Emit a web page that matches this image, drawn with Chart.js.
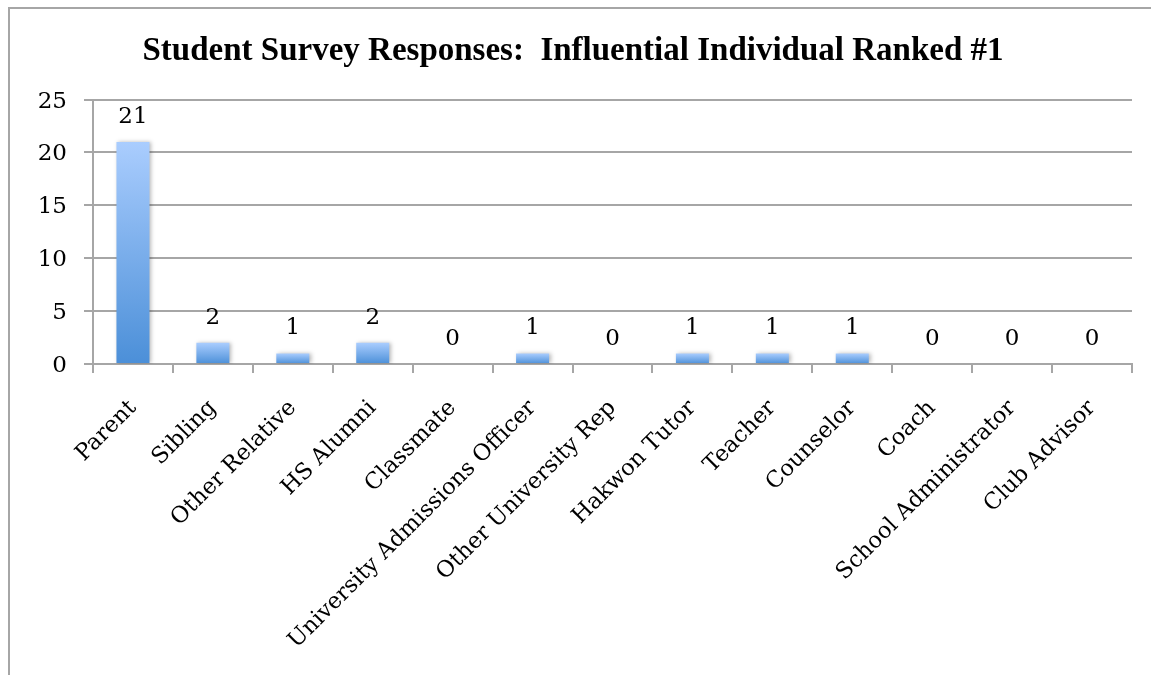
<!DOCTYPE html>
<html>
<head>
<meta charset="utf-8">
<script src="https://cdn.jsdelivr.net/npm/chart.js@4.4.0/dist/chart.umd.min.js"></script>
<style>
  body { margin: 0; background: #fff; }
  #wrap { position: relative; width: 1151px; height: 675px; overflow: hidden; }
  #frame { position: absolute; left: 8px; top: 7px; width: 1200px; height: 700px;
           border-left: 2px solid #a6a6a6; border-top: 2px solid #a6a6a6; }
  #myChart { position: absolute; left: 0; top: 0; }
</style>
</head>
<body>
<div id="wrap">
  <div id="frame"></div>
  <canvas id="myChart" width="1151" height="675"></canvas>
</div>
<script>
// survey data
const categories = ['Parent', 'Sibling', 'Other Relative', 'HS Alumni', 'Classmate',
  'University Admissions Officer', 'Other University Rep', 'Hakwon Tutor', 'Teacher',
  'Counselor', 'Coach', 'School Administrator', 'Club Advisor'];
const responses = [21, 2, 1, 2, 0, 1, 0, 1, 1, 1, 0, 0, 0];
const yTicks = [0, 5, 10, 15, 20, 25];

const serif = "'DejaVu Serif', serif";
const gridGray = '#a6a6a6';

// bar gradient, light at the top, darker at the base
function barFill(context) {
  const chart = context.chart;
  if (!chart.chartArea) return '#6fa8e8';
  const y = chart.scales.y;
  const top = y.getPixelForValue(context.raw);
  const base = y.getPixelForValue(0);
  if (base - top < 1) return '#6fa8e8';
  const g = chart.ctx.createLinearGradient(0, top, 0, base);
  g.addColorStop(0, '#aacdfe');
  g.addColorStop(1, '#4b8fd8');
  return g;
}

// soft shadow under the bars + value labels above them
const barExtras = {
  id: 'barExtras',
  afterLayout(chart) {
    // nudge the title a little right, like the original
    chart.titleBlock.left += 7;
    chart.titleBlock.right += 7;
  },
  beforeDatasetsDraw(chart) {
    const c = chart.ctx;
    c.save();
    c.shadowColor = 'rgba(0,0,0,0.28)';
    c.shadowBlur = 4;
    c.shadowOffsetX = 2;
    c.shadowOffsetY = 0;
  },
  afterDatasetsDraw(chart) {
    const c = chart.ctx;
    c.restore();
    c.save();
    c.font = '23px ' + serif;
    c.fillStyle = '#000';
    c.textAlign = 'center';
    c.textBaseline = 'middle';
    chart.getDatasetMeta(0).data.forEach((bar, i) => {
      c.fillText(String(responses[i]), bar.x, bar.y - 25);
    });
    c.restore();
  }
};

const ctx = document.getElementById('myChart').getContext('2d');
const myChart = new Chart(ctx, {
  type: 'bar',
  data: {
    labels: categories,
    datasets: [{
      data: responses,
      backgroundColor: barFill,
      borderWidth: 0,
      barPercentage: 0.413,
      categoryPercentage: 1
    }]
  },
  options: {
    responsive: false,
    animation: false,
    devicePixelRatio: 1,
    layout: { padding: { left: 0, right: 19, top: 0, bottom: 0 } },
    plugins: {
      legend: { display: false },
      tooltip: { enabled: false },
      title: {
        display: true,
        text: 'Student Survey Responses:  Influential Individual Ranked #1',
        color: '#000',
        font: { family: "'Liberation Serif', serif", size: 33, weight: 'bold', lineHeight: 1.2 },
        padding: { top: 32, bottom: 28 }
      }
    },
    scales: {
      x: {
        grid: { drawOnChartArea: false, drawTicks: true, tickLength: 9, color: gridGray, lineWidth: 2 },
        border: { color: gridGray, width: 2 },
        ticks: {
          color: '#000',
          font: { family: serif, size: 22.5 },
          maxRotation: 45,
          minRotation: 45,
          autoSkip: false,
          padding: 22
        },
        afterFit(scale) { scale.height = 311; }
      },
      y: {
        min: 0,
        max: 25,
        afterBuildTicks(scale) { scale.ticks = yTicks.map(v => ({ value: v })); },
        grid: { color: gridGray, lineWidth: 2, tickLength: 9 },
        border: { color: gridGray, width: 2 },
        ticks: {
          color: '#000',
          font: { family: serif, size: 23 },
          padding: 17,
          labelOffset: 2
        },
        afterFit(scale) { scale.width = 93; }
      }
    }
  },
  plugins: [barExtras]
});
</script>
</body>
</html>
